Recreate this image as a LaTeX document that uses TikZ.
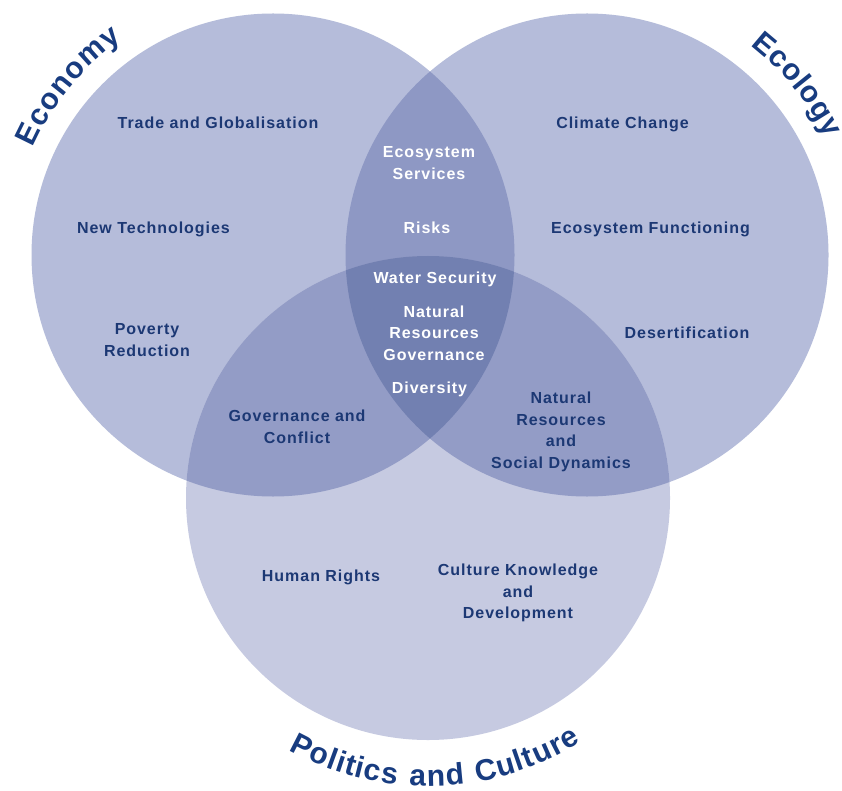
\documentclass[tikz,border=0pt]{standalone}
\usepackage{fontspec}
\setmainfont{Liberation Sans}[LetterSpace=6]
\usetikzlibrary{decorations.text}
\definecolor{single}{HTML}{B5BCDA}
\definecolor{bottomc}{HTML}{C6CAE1}
\definecolor{lens}{HTML}{8E98C4}
\definecolor{lensb}{HTML}{939CC6}
\definecolor{triple}{HTML}{7280B1}
\definecolor{navy}{HTML}{1C3874}
\definecolor{titleblue}{HTML}{183C80}
\newcommand\ttlfont{\fontsize{30}{32}\selectfont\bfseries}
\begin{document}
\begin{tikzpicture}[x=1pt,y=1pt,
  lbl/.style={font=\bfseries\fontsize{16}{21.5}\selectfont, text=navy, align=center, inner sep=0pt},
  wlbl/.style={lbl, text=white},
  ttl/.style={decorate, decoration={text along path, text align={fit to path}, text color=titleblue}}]
\fill[white] (0,0) rectangle (842,-791);
\useasboundingbox (0,0) rectangle (842,-791);
\coordinate (cL) at (273,-255);
\coordinate (cR) at (587,-255);
\coordinate (cB) at (428,-498);
\fill[single] (cL) circle[radius=241.5];
\fill[single] (cR) circle[radius=241.5];
\fill[bottomc] (cB) circle[radius=242];
\begin{scope}
  \clip (cL) circle[radius=241.5];
  \fill[lens] (cR) circle[radius=241.5];
  \fill[lensb] (cB) circle[radius=242];
\end{scope}
\begin{scope}
  \clip (cR) circle[radius=241.5];
  \fill[lensb] (cB) circle[radius=242];
\end{scope}
\begin{scope}
  \clip (cL) circle[radius=241.5];
  \clip (cR) circle[radius=241.5];
  \fill[triple] (cB) circle[radius=242];
\end{scope}
% titles
\path[ttl, decoration={text={|\ttlfont|Economy}}]
  ([shift={(156:263)}]cL) arc[start angle=156, end angle=125, radius=263];
\path[ttl, decoration={text={|\ttlfont|Ecology}}]
  ([shift={(52:266)}]cR) arc[start angle=52, end angle=26, radius=266];
\path[ttl, decoration={text={|\ttlfont|Politics and Culture}}]
  ([shift={(-119:288)}]cB) arc[start angle=-119, end angle=-58, radius=288];
% labels
\node[lbl] (trade) at (218,-123) {Trade and Globalisation};
\node[lbl] (newtech) at (153.5,-229) {New Technologies};
\node[lbl] (poverty) at (147,-340) {Poverty\\Reduction};
\node[wlbl] (ecoserv) at (429,-163) {Ecosystem\\Services};
\node[wlbl] (risks) at (427,-228) {Risks};
\node[wlbl] (water) at (435,-279) {Water Security};
\node[wlbl] (nrg) at (434,-333) {Natural\\Resources\\Governance};
\node[wlbl] (diversity) at (429.5,-389) {Diversity};
\node[lbl] (climate) at (622.5,-124) {Climate Change};
\node[lbl] (ecofunc) at (650.5,-229) {Ecosystem Functioning};
\node[lbl] (desert) at (687,-333) {Desertification};
\node[lbl] (govconf) at (297,-427) {Governance and\\Conflict};
\node[lbl] (nrsd) at (561,-432) {Natural\\Resources\\and\\Social Dynamics};
\node[lbl] (human) at (321,-577) {Human Rights};
\node[lbl] (culture) at (518,-593) {Culture Knowledge\\and\\Development};
\end{tikzpicture}
\end{document}
